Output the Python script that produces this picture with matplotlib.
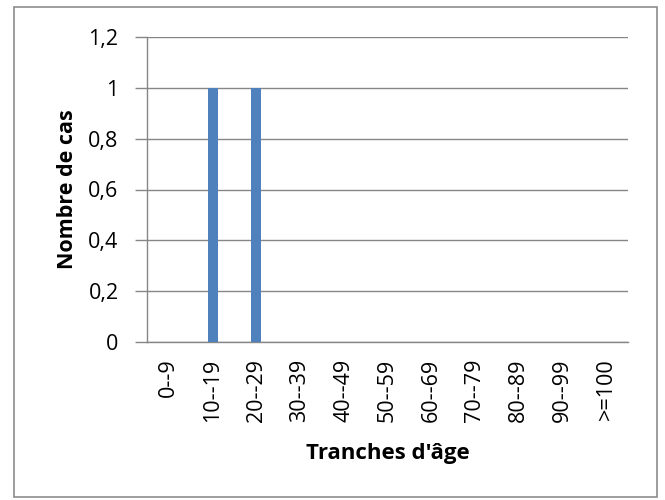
import matplotlib
matplotlib.use("Agg")
import matplotlib.pyplot as plt
from matplotlib.patches import Rectangle
from matplotlib.ticker import FuncFormatter

categories = ["0--9", "10--19", "20--29", "30--39", "40--49", "50--59",
              "60--69", "70--79", "80--89", "90--99", ">=100"]
values = [0, 1, 1, 0, 0, 0, 0, 0, 0, 0, 0]
yticks = [0, 0.2, 0.4, 0.6, 0.8, 1.0, 1.2]

plt.rcParams['font.family'] = ['Open Sans', 'DejaVu Sans']

fig = plt.figure(figsize=(6.65, 5.0), dpi=100)
fig.patches.append(Rectangle((14/665, 1 - 497/500), (657-14)/665, (497-7)/500,
                             transform=fig.transFigure, fill=False,
                             edgecolor='#8c8c8c', linewidth=1.2))
ax = fig.add_axes([147/665, 1 - 342/500, (628-147)/665, (342-37)/500])

x = list(range(len(categories)))
ax.bar(x, values, width=0.23, color='#4F81BD', zorder=3)
ax.set_xlim(-0.5, len(categories) - 0.5)
ax.set_ylim(0, 1.2)
ax.set_yticks(yticks)
ax.yaxis.set_major_formatter(FuncFormatter(lambda v, p: ('%g' % v).replace('.', ',')))
ax.set_xticks(x)
ax.set_xticklabels(categories, rotation=90, fontsize=15.5)
ax.tick_params(axis='y', labelsize=15.5, length=9, width=1, color='#868686', pad=11.5)
ax.tick_params(axis='x', length=0, pad=12)
ax.grid(axis='y', color='#868686', linewidth=1, zorder=0)
for s in ['top', 'right']:
    ax.spines[s].set_visible(False)
for s in ['left', 'bottom']:
    ax.spines[s].set_color('#868686')
    ax.spines[s].set_linewidth(1)
ax.set_ylabel("Nombre de cas", fontsize=15.5, fontweight='bold')
ax.yaxis.set_label_coords((78 - 147) / 481, 0.5)
ax.set_xlabel("Tranches d'âge", fontsize=16, fontweight='bold')
ax.xaxis.set_label_coords(0.5, (342 - 443) / 305)

fig.savefig("out.png", dpi=100)
